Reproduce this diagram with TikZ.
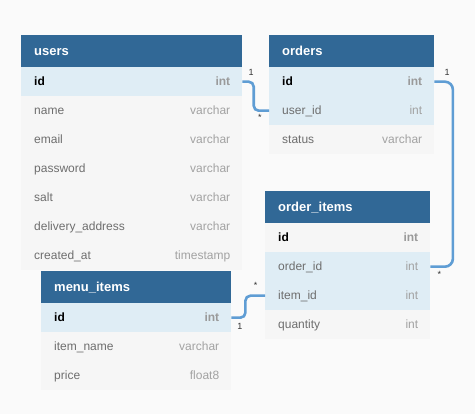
\documentclass[tikz,border=0pt]{standalone}
\usepackage{fontspec}
\setmainfont{Liberation Sans}
\definecolor{bg}{HTML}{FAFAFA}
\definecolor{hdrblue}{HTML}{316896}
\definecolor{rowhl}{HTML}{DFEDF5}
\definecolor{rowgr}{HTML}{F6F6F6}
\definecolor{fieldc}{HTML}{6E6E6E}
\definecolor{typec}{HTML}{A2A2A2}
\definecolor{linec}{HTML}{5F9DD4}
\tikzset{
  hdrbox/.style={fill=hdrblue, draw=none, minimum height=32pt, inner sep=0pt, anchor=north west},
  hdrtext/.style={text=white, font=\bfseries\fontsize{13}{15}\selectfont, inner sep=0pt, text height=9.5pt, text depth=0pt},
  rowbox/.style={draw=none, minimum height=29pt, inner sep=0pt, anchor=north west},
  hl/.style={fill=rowhl},
  gr/.style={fill=rowgr},
  fieldtxt/.style={text=fieldc, font=\fontsize{12}{14}\selectfont, inner sep=0pt, text height=8.6pt, text depth=0pt},
  pktxt/.style={text=black, font=\bfseries\fontsize{12}{14}\selectfont, inner sep=0pt, text height=8.6pt, text depth=0pt},
  typetxt/.style={text=typec, font=\fontsize{12}{14}\selectfont, inner sep=0pt, text height=8.6pt, text depth=0pt},
  pktype/.style={text=typec!95!black, font=\bfseries\fontsize{12}{14}\selectfont, inner sep=0pt, text height=8.6pt, text depth=0pt},
  conn/.style={draw=linec, line width=2.6pt},
  card/.style={text=black!80, font=\fontsize{9}{10}\selectfont, inner sep=0pt},
}
\newcommand\dbhead[5]{%
  \node[hdrbox, minimum width=#4pt] (#1) at (#2,#3) {};
  \node[hdrtext, anchor=west] (#1-t) at ([xshift=13pt]#1.west) {#5};
}
% name, x, y, width, fill, field, type, field style, type style
\newcommand\dbrow[9]{%
  \node[rowbox, #5, minimum width=#4pt] (#1) at (#2,#3) {};
  \node[#8, anchor=west] (#1-f) at ([xshift=13pt]#1.west) {#6};
  \node[#9, anchor=east] (#1-ty) at ([xshift=-12pt]#1.east) {#7};
}
\begin{document}
\begin{tikzpicture}[x=1pt,y=-1pt]
\useasboundingbox[fill=bg] (0,0) rectangle (475,414);
% users
\dbhead{users}{21}{35}{221}{users}
\dbrow{users-id}{21}{67}{221}{hl}{id}{int}{pktxt}{pktype}
\dbrow{users-name}{21}{96}{221}{gr}{name}{varchar}{fieldtxt}{typetxt}
\dbrow{users-email}{21}{125}{221}{gr}{email}{varchar}{fieldtxt}{typetxt}
\dbrow{users-password}{21}{154}{221}{gr}{password}{varchar}{fieldtxt}{typetxt}
\dbrow{users-salt}{21}{183}{221}{gr}{salt}{varchar}{fieldtxt}{typetxt}
\dbrow{users-addr}{21}{212}{221}{gr}{delivery\_address}{varchar}{fieldtxt}{typetxt}
\dbrow{users-created}{21}{241}{221}{gr}{created\_at}{timestamp}{fieldtxt}{typetxt}
% orders
\dbhead{orders}{269}{35}{165}{orders}
\dbrow{orders-id}{269}{67}{165}{hl}{id}{int}{pktxt}{pktype}
\dbrow{orders-userid}{269}{96}{165}{hl}{user\_id}{int}{fieldtxt}{typetxt}
\dbrow{orders-status}{269}{125}{165}{gr}{status}{varchar}{fieldtxt}{typetxt}
% order_items
\dbhead{oi}{265}{191}{165}{order\_items}
\dbrow{oi-id}{265}{223}{165}{gr}{id}{int}{pktxt}{pktype}
\dbrow{oi-orderid}{265}{252}{165}{hl}{order\_id}{int}{fieldtxt}{typetxt}
\dbrow{oi-itemid}{265}{281}{165}{hl}{item\_id}{int}{fieldtxt}{typetxt}
\dbrow{oi-qty}{265}{310}{165}{gr}{quantity}{int}{fieldtxt}{typetxt}
% menu_items
\dbhead{menu}{41}{271}{190}{menu\_items}
\dbrow{menu-id}{41}{303}{190}{hl}{id}{int}{pktxt}{pktype}
\dbrow{menu-name}{41}{332}{190}{gr}{item\_name}{varchar}{fieldtxt}{typetxt}
\dbrow{menu-price}{41}{361}{190}{gr}{price}{float8}{fieldtxt}{typetxt}
% connectors
\draw[conn, rounded corners=5pt] (users-id.east) -- ++(11.3,0) |- (orders-userid.west);
\draw[conn, rounded corners=8pt] (orders-id.east) -- ++(18.5,0) |- (oi-orderid.east);
\draw[conn, rounded corners=5pt] (menu-id.east) -- ++(14,0) |- (oi-itemid.west);
% cardinalities
\node[card] (c1a) at ([xshift=8.7pt,yshift=9.5pt]users-id.east) {1};
\node[card] (c1b) at ([xshift=-9pt,yshift=-6.5pt]orders-userid.west) {*};
\node[card] (c2a) at ([xshift=12.7pt,yshift=9.5pt]orders-id.east) {1};
\node[card] (c2b) at ([xshift=9pt,yshift=-8pt]oi-orderid.east) {*};
\node[card] (c3a) at ([xshift=8.5pt,yshift=-9pt]menu-id.east) {1};
\node[card] (c3b) at ([xshift=-9.3pt,yshift=10.5pt]oi-itemid.west) {*};
\end{tikzpicture}
\end{document}
